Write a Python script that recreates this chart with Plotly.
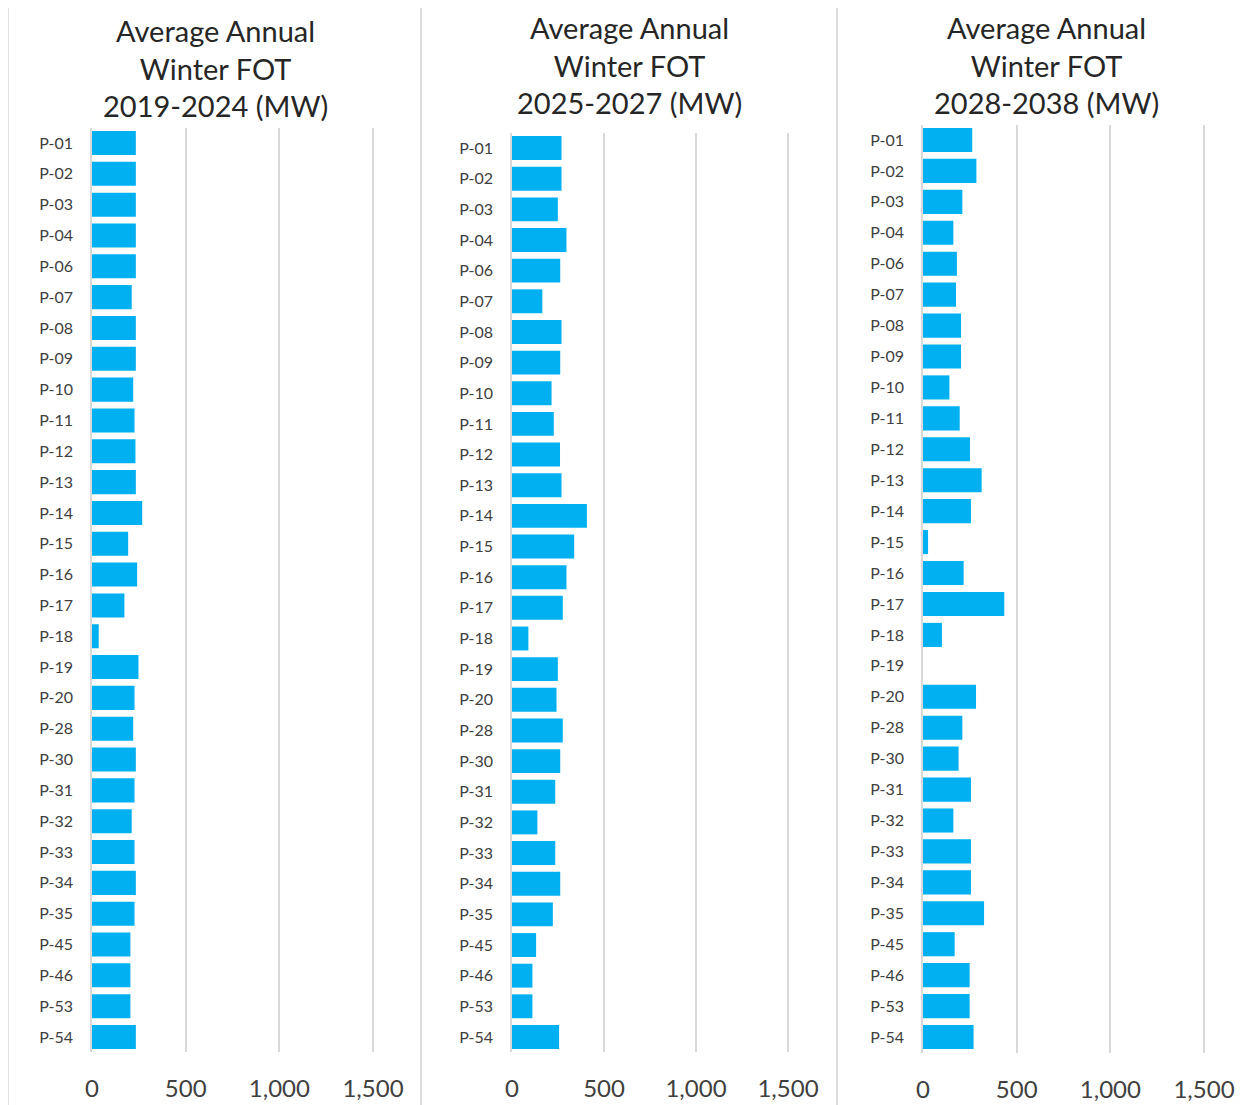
import plotly.graph_objects as go

categories = ["P-01", "P-02", "P-03", "P-04", "P-06", "P-07", "P-08", "P-09", "P-10", "P-11",
              "P-12", "P-13", "P-14", "P-15", "P-16", "P-17", "P-18", "P-19", "P-20", "P-28",
              "P-30", "P-31", "P-32", "P-33", "P-34", "P-35", "P-45", "P-46", "P-53", "P-54"]

fot_2019_2024 = [234, 234, 234, 234, 234, 212, 234, 234, 220, 227,
                 232, 234, 268, 193, 241, 173, 36, 248, 227, 220,
                 234, 227, 212, 227, 234, 227, 205, 205, 205, 234]

fot_2025_2027 = [269, 269, 249, 296, 262, 165, 269, 262, 215, 227,
                 261, 269, 407, 338, 296, 276, 89, 249, 242, 276,
                 262, 235, 138, 235, 262, 222, 131, 111, 111, 256]

fot_2028_2038 = [263, 285, 210, 162, 181, 176, 203, 203, 141, 196,
                 251, 313, 256, 27, 217, 434, 101, 0, 283, 210,
                 190, 256, 162, 256, 256, 326, 169, 249, 249, 270]

titles = ["Average Annual<br>Winter FOT<br>2019-2024 (MW)",
          "Average Annual<br>Winter FOT<br>2025-2027 (MW)",
          "Average Annual<br>Winter FOT<br>2028-2038 (MW)"]

x_ticks = [0, 500, 1000, 1500]
x_tick_text = ["0", "500", "1,000", "1,500"]

W, H = 1252, 1105
OFF = 8  # page body margin offset (screen px = figure px + OFF)
BAR = "#00B0F0"
GRID = "#d9d9d9"
TXT = "#404040"
FONT = "Lato, 'Noto Sans', sans-serif"
XMAX = 1530  # a little room past 1,500 so its gridline is drawn


def px(x):
    return (x - OFF) / W


def py(y):
    return 1 - (y - OFF) / H


# screen-pixel geometry per panel: x0 (value 0), x1 (value 1500), plot top/bottom, title centre
panels = [
    dict(x0=92, x1=373, yt=127.6, yb=1052.4, tx=215, ty=68),
    dict(x0=512, x1=788, yt=132.7, yb=1052.3, tx=629, ty=65),
    dict(x0=923, x1=1204, yt=124.5, yb=1052.5, tx=1046, ty=65),
]
series = [fot_2019_2024, fot_2025_2027, fot_2028_2038]

fig = go.Figure()
layout = dict(
    template="none",
    width=W, height=H,
    margin=dict(l=0, r=0, t=0, b=0, autoexpand=False),
    paper_bgcolor="white", plot_bgcolor="white",
    showlegend=False,
    font=dict(family=FONT, color=TXT),
    bargap=0.22,
)
annotations = []
shapes = []
for i, (p, vals) in enumerate(zip(panels, series)):
    sfx = "" if i == 0 else str(i + 1)
    fig.add_trace(go.Bar(
        x=vals, y=categories, orientation="h",
        marker=dict(color=BAR, line=dict(width=0)),
        xaxis="x" + sfx, yaxis="y" + sfx,
    ))
    x_end = p["x0"] + (p["x1"] - p["x0"]) * XMAX / 1500
    layout["xaxis" + sfx] = dict(
        domain=[px(p["x0"]), px(x_end)],
        range=[0, XMAX],
        tickvals=x_ticks, ticktext=x_tick_text,
        showgrid=True, gridcolor=GRID, gridwidth=1.5,
        zeroline=False, showline=False,
        anchor="y" + sfx, automargin=False,
        tickfont=dict(size=24, color=TXT, family=FONT),
        ticks="", ticklabelstandoff=20,
        fixedrange=True,
    )
    layout["yaxis" + sfx] = dict(
        domain=[py(p["yb"]), py(p["yt"])],
        type="category",
        categoryorder="array", categoryarray=categories,
        autorange="reversed",
        showgrid=False, zeroline=False,
        showline=True, linecolor=GRID, linewidth=1.5,
        anchor="x" + sfx, automargin=False,
        tickfont=dict(size=16, color=TXT, family=FONT),
        ticks="", ticklabelstandoff=14,
        fixedrange=True,
    )
    annotations.append(dict(
        text=titles[i], x=px(p["tx"]), y=py(p["ty"]),
        xref="paper", yref="paper", xanchor="center", yanchor="middle",
        showarrow=False, align="center",
        font=dict(size=29, color="#262626", family=FONT),
    ))

# panel frames
for (a, b) in [(8, 421), (421, 837), (837, 1249)]:
    shapes.append(dict(type="rect", xref="paper", yref="paper",
                       x0=px(a), x1=px(b), y0=-0.02, y1=py(4),
                       line=dict(color=GRID, width=1.5), fillcolor="rgba(0,0,0,0)"))

layout["annotations"] = annotations
layout["shapes"] = shapes
fig.update_layout(**layout)
fig.write_html("out.html")
